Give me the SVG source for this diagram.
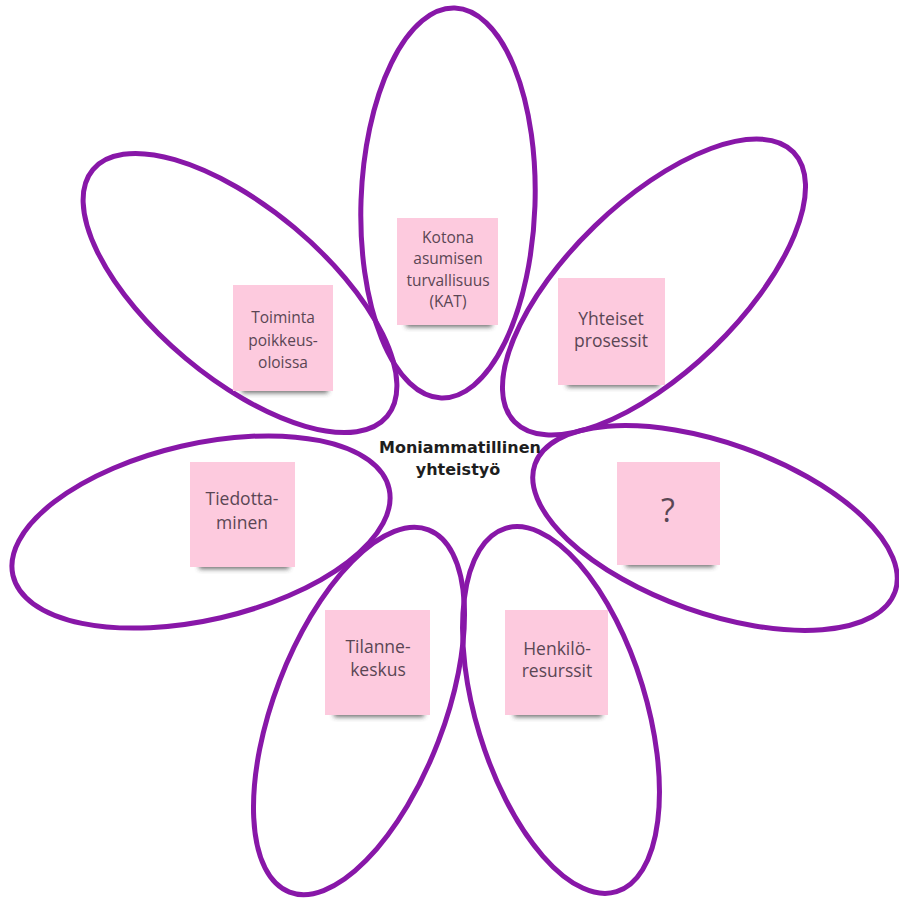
<svg xmlns="http://www.w3.org/2000/svg" width="899" height="898" viewBox="0 0 899 898">
<defs>
<filter id="blur" x="-20%" y="-50%" width="140%" height="200%"><feGaussianBlur stdDeviation="2.5"/></filter>
<style>
.petal{fill:none;stroke:#8817a8;stroke-width:5}
.shadow{fill:#3a3a3a;opacity:0.75;filter:url(#blur)}
.note{fill:#fdcade}
.nt{font-family:"Open Sans","Noto Sans",sans-serif;font-size:15.5px;fill:#5a4654;text-anchor:middle}
.big{font-size:17.5px}
.ct{font-family:"DejaVu Sans",sans-serif;font-weight:bold;font-size:16px;fill:#1e1e1e;text-anchor:middle}
</style>
</defs>
<rect width="899" height="898" fill="#ffffff"/>
<g id="petals">
<ellipse id="petal-top" class="petal" cx="448" cy="203" rx="87" ry="195" transform="rotate(2 448 203)"/>
<ellipse id="petal-topleft" class="petal" cx="240" cy="293" rx="192" ry="85" transform="rotate(40 240 293)"/>
<ellipse id="petal-topright" class="petal" cx="654" cy="287" rx="194" ry="85" transform="rotate(-44 654 287)"/>
<ellipse id="petal-left" class="petal" cx="201" cy="532" rx="193" ry="88" transform="rotate(-13 201 532)"/>
<ellipse id="petal-right" class="petal" cx="715" cy="528" rx="191" ry="85" transform="rotate(19.5 715 528)"/>
<ellipse id="petal-bottomleft" class="petal" cx="359" cy="711" rx="85" ry="194" transform="rotate(21 359 711)"/>
<ellipse id="petal-bottomright" class="petal" cx="561" cy="710" rx="85" ry="190" transform="rotate(-17 561 710)"/>
</g>
<g id="connectors"/>
<g id="center">
<text class="ct" x="460" y="453">Moniammatillinen</text>
<text class="ct" x="458" y="475">yhteistyö</text>
</g>
<g id="note-kat">
<rect class="shadow" x="406" y="318" width="86" height="9"/>
<rect class="note" x="397" y="218" width="101" height="107"/>
<text class="nt" x="448" y="243">Kotona</text>
<text class="nt" x="448" y="264">asumisen</text>
<text class="nt" x="448" y="286">turvallisuus</text>
<text class="nt" x="448" y="307">(KAT)</text>
</g>
<g id="note-toiminta">
<rect class="shadow" x="242" y="384" width="86" height="9"/>
<rect class="note" x="233" y="285" width="100" height="106"/>
<text class="nt" x="283" y="323">Toiminta</text>
<text class="nt" x="283" y="346">poikkeus-</text>
<text class="nt" x="283" y="368">oloissa</text>
</g>
<g id="note-yhteiset">
<rect class="shadow" x="567" y="378" width="92" height="9"/>
<rect class="note" x="558" y="278" width="107" height="107"/>
<text class="nt big" x="611" y="325">Yhteiset</text>
<text class="nt big" x="611" y="347">prosessit</text>
</g>
<g id="note-tiedotta">
<rect class="shadow" x="199" y="560" width="90" height="9"/>
<rect class="note" x="190" y="462" width="105" height="105"/>
<text class="nt big" x="242" y="505">Tiedotta-</text>
<text class="nt big" x="242" y="529">minen</text>
</g>
<g id="note-question">
<rect class="shadow" x="626" y="558" width="88" height="9"/>
<rect class="note" x="617" y="462" width="103" height="103"/>
<text class="nt" x="668" y="522" style="font-size:32px">?</text>
</g>
<g id="note-tilanne">
<rect class="shadow" x="334" y="708" width="90" height="9"/>
<rect class="note" x="325" y="610" width="105" height="105"/>
<text class="nt big" x="378" y="653">Tilanne-</text>
<text class="nt big" x="378" y="676">keskus</text>
</g>
<g id="note-henkilo">
<rect class="shadow" x="514" y="708" width="88" height="9"/>
<rect class="note" x="505" y="610" width="103" height="105"/>
<text class="nt big" x="557" y="655">Henkilö-</text>
<text class="nt big" x="557" y="677">resurssit</text>
</g>
</svg>
